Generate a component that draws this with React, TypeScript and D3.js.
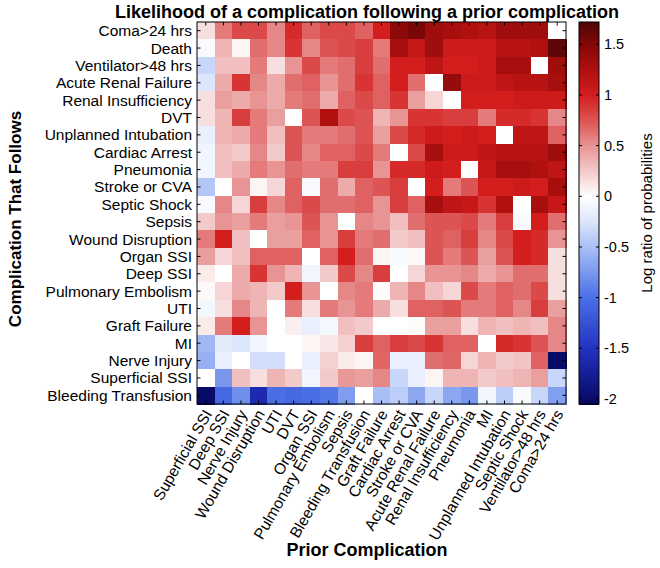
import React from 'react';
import * as d3 from 'd3';

const priorComplications = [
  'Superficial SSI', 'Deep SSI', 'Nerve Injury', 'Wound Disruption', 'UTI', 'DVT', 'Organ SSI',
  'Pulmonary Embolism', 'Sepsis', 'Bleeding Transfusion', 'Graft Failure', 'Cardiac Arrest',
  'Stroke or CVA', 'Acute Renal Failure', 'Renal Insufficiency', 'Pneumonia', 'MI',
  'Unplanned Intubation', 'Septic Shock', 'Ventilator>48 hrs', 'Coma>24 hrs',
];

const followingComplications = [
  'Coma>24 hrs', 'Death', 'Ventilator>48 hrs', 'Acute Renal Failure', 'Renal Insufficiency', 'DVT',
  'Unplanned Intubation', 'Cardiac Arrest', 'Pneumonia', 'Stroke or CVA', 'Septic Shock', 'Sepsis',
  'Wound Disruption', 'Organ SSI', 'Deep SSI', 'Pulmonary Embolism', 'UTI', 'Graft Failure', 'MI',
  'Nerve Injury', 'Superficial SSI', 'Bleeding Transfusion',
];

// log ratio of probabilities; rows = complication that follows, cols = prior complication
const logRatios: (number | null)[][] = [
  [0.15, 0.6, 0.8, 0.8, 0.55, 0.95, 0.7, 0.8, 0.8, 0.7, 1.0, 1.45, 1.55, 1.35, 1.3, 1.25, 1.2, 1.35, 1.35, 1.35, null],
  [-0.05, 0.35, 0.05, 0.65, 0.55, 0.9, 0.55, 0.75, 0.8, 0.85, 0.6, 1.3, 1.1, 1.35, 1.05, 1.05, 1.05, 1.2, 1.2, 1.25, 1.65],
  [-0.35, 0.3, 0.3, 0.6, 0.15, 0.5, 0.8, 0.6, 0.65, 0.85, 0.65, 1.0, 1.0, 1.15, 1.0, 1.0, 1.05, 1.3, 1.3, null, 1.35],
  [-0.25, 0.4, 0.9, 0.55, 0.4, 0.65, 0.7, 0.5, 0.65, 0.9, 0.7, 1.0, 0.65, null, 1.4, 1.05, 1.05, 1.15, 1.2, 1.2, 1.3],
  [0.15, 0.45, 0.4, 0.5, 0.4, 0.6, 0.65, 0.4, 0.7, 0.8, 0.7, 0.9, 0.45, 0.2, null, 1.0, 1.0, 1.0, 1.05, 1.05, 1.05],
  [0.15, 0.35, 0.85, 0.6, 0.45, null, 0.75, 1.25, 0.8, 0.75, 0.35, 0.5, 0.9, 0.9, 0.85, 0.85, 0.6, 0.95, 0.95, 0.9, 0.55],
  [-0.15, 0.35, 0.4, 0.6, 0.3, 0.75, 0.6, 0.6, 0.65, 0.75, 0.45, 0.8, 0.95, 1.05, 1.0, 1.05, 1.0, null, 1.15, 1.15, 0.7],
  [-0.1, 0.3, 0.25, 0.55, 0.25, 0.75, 0.55, 0.7, 0.7, 0.8, 0.6, null, 0.8, 1.3, 1.05, 1.05, 1.15, 1.2, 1.2, 1.2, 1.35],
  [-0.1, 0.3, 0.4, 0.6, 0.5, 0.65, 0.6, 0.6, 0.85, 0.85, 0.5, 0.95, 0.95, 1.05, 1.0, null, 1.1, 1.3, 1.3, 1.25, 1.15],
  [-0.45, 0.0, 0.5, 0.05, 0.2, 0.7, -0.05, 0.65, 0.4, 0.7, 0.75, 0.85, null, 1.0, 0.6, 0.75, 1.0, 1.0, 1.05, 1.0, 1.3],
  [-0.05, 0.55, 0.2, 0.85, 0.55, 0.7, 0.8, 0.65, 0.65, 0.7, 0.5, 0.85, 0.7, 1.3, 1.15, 1.1, 0.9, 1.25, null, 1.3, 1.1],
  [0.25, 0.5, 0.45, 0.6, 0.45, 0.5, 0.75, 0.5, null, 0.55, 0.5, 0.3, 0.65, 0.75, 0.75, 0.8, 0.6, 0.85, -0.05, 1.0, 0.65],
  [0.6, 1.0, 0.3, null, 0.45, 0.45, 0.7, 0.5, 0.85, 0.6, 0.65, 0.25, 0.3, 0.75, 0.7, 0.85, 0.55, 0.8, 1.0, 0.95, 0.5],
  [0.45, 0.2, 0.3, 0.7, 0.7, 0.7, null, 0.7, 1.0, 0.65, 0.05, -0.05, 0.03, 0.75, 0.6, 0.75, 0.45, 0.75, 1.0, 0.95, 0.15],
  [0.1, null, 0.4, 0.9, 0.5, 0.35, -0.1, 0.25, 0.8, 0.55, 0.85, 0.0, 0.2, 0.5, 0.5, 0.55, 0.4, 0.5, 0.65, 0.65, 0.15],
  [0.03, 0.2, 0.4, 0.35, 0.25, 1.0, 0.5, null, 0.55, 0.6, 0.02, 0.35, 0.55, 0.3, 0.2, 0.8, 0.6, 0.7, 0.65, 0.8, 0.15],
  [-0.08, 0.15, 0.55, 0.35, null, 0.6, 0.15, 0.6, 0.5, 0.6, 0.4, 0.15, 0.7, 0.7, 0.75, 0.6, 0.6, 0.7, 0.55, 0.85, 0.45],
  [0.1, 0.6, 1.0, 0.5, 0.0, 0.08, -0.15, -0.08, 0.3, 0.25, null, 0.0, 0.02, 0.45, 0.45, 0.15, 0.35, 0.3, 0.35, 0.3, 0.55],
  [-0.55, -0.2, -0.25, -0.1, 0.0, 0.0, 0.05, 0.12, 0.22, 0.85, 0.7, 0.85, 0.8, 0.9, 0.7, 0.7, null, 0.95, 0.9, 0.75, 0.55],
  [-0.6, -0.15, null, -0.3, -0.3, 0.0, -0.15, 0.22, 0.1, 0.05, 0.68, -0.15, -0.15, 0.65, 0.68, 0.2, 0.35, 0.25, 0.28, 0.7, -2.0],
  [null, -0.75, 0.3, 0.15, 0.35, 0.25, -0.1, 0.25, 0.48, 0.45, 0.55, -0.35, -0.15, 0.05, 0.35, 0.35, 0.25, 0.3, 0.35, 0.45, -0.35],
  [-2.0, -1.05, -0.8, -1.6, -1.0, -1.05, -1.0, -0.95, -0.72, null, -0.5, -0.4, -0.65, -0.35, -0.65, -0.75, -0.1, -0.4, -0.05, -0.35, -0.7],
];

const colorbarTicks = [1.5, 1, 0.5, 0, -0.5, -1, -1.5, -2];
const colorMin = -2.05;
const colorMax = 1.72;
const colorStops = [-2.05, -1.5, -1, -0.5, -0.25, 0, 0.25, 0.5, 0.75, 1, 1.25, 1.5, 1.72];
const colorValues = [
  '#070760', '#2232c0', '#4a6fe5', '#a8bff5', '#dbe5fb', '#ffffff',
  '#f3caca', '#e89494', '#dd5454', '#d41e1e', '#b01010', '#850808', '#4d0505',
];

const FONT = '"Liberation Sans", Arial, Helvetica, sans-serif';

export default function App() {
  const W = 660, H = 568;
  const left = 197, right = 566, top = 22, bottom = 404;
  const cbLeft = 579, cbRight = 599;
  const centerX = 367;

  const x = d3.scaleBand<string>().domain(priorComplications).range([left, right]);
  const y = d3.scaleBand<string>().domain(followingComplications).range([top, bottom]);
  const color = d3.scaleLinear<string>().domain(colorStops).range(colorValues).interpolate(d3.interpolateRgb).clamp(true);
  const cb = d3.scaleLinear().domain([colorMin, colorMax]).range([bottom, top]);

  const cells: JSX.Element[] = [];
  logRatios.forEach((row, ri) => {
    row.forEach((v, ci) => {
      cells.push(
        <rect
          key={`${ri}-${ci}`}
          x={x(priorComplications[ci])}
          y={y(followingComplications[ri])}
          width={x.bandwidth() + 0.5}
          height={y.bandwidth() + 0.5}
          fill={v === null ? '#ffffff' : color(v)}
        />
      );
    });
  });

  const nSteps = 300;
  const cbRects = d3.range(nSteps).map((i) => {
    const v0 = colorMin + ((colorMax - colorMin) * i) / nSteps;
    const v1 = colorMin + ((colorMax - colorMin) * (i + 1)) / nSteps;
    return (
      <rect key={i} x={cbLeft} y={cb(v1)} width={cbRight - cbLeft} height={cb(v0) - cb(v1) + 0.6}
        fill={color((v0 + v1) / 2)} />
    );
  });

  const tl = 3.5;
  return (
    <svg width={W} height={H} style={{ position: 'absolute', left: 0, top: 0, background: '#fff' }}
      fontFamily={FONT}>
      <rect x={0} y={0} width={W} height={H} fill="#fff" />
      <text x={centerX} y={18} textAnchor="middle" fontSize={18} fontWeight="bold">
        Likelihood of a complication following a prior complication
      </text>
      <g shapeRendering="crispEdges">{cells}</g>
      <g stroke="#000" strokeWidth={1}>
        {priorComplications.map((c) => {
          const cx = (x(c) as number) + x.bandwidth() / 2;
          return (
            <g key={c}>
              <line x1={cx} x2={cx} y1={top} y2={top + tl} />
              <line x1={cx} x2={cx} y1={bottom} y2={bottom - tl} />
            </g>
          );
        })}
        {followingComplications.map((c) => {
          const cy = (y(c) as number) + y.bandwidth() / 2;
          return (
            <g key={c}>
              <line x1={left} x2={left + tl} y1={cy} y2={cy} />
              <line x1={right} x2={right - tl} y1={cy} y2={cy} />
            </g>
          );
        })}
      </g>
      <rect x={left} y={top} width={right - left} height={bottom - top} fill="none" stroke="#000" strokeWidth={1} />
      {followingComplications.map((c) => (
        <text key={c} x={left - 5} y={(y(c) as number) + y.bandwidth() / 2} textAnchor="end"
          dominantBaseline="central" fontSize={15.5}>{c}</text>
      ))}
      {priorComplications.map((c) => {
        const cx = (x(c) as number) + x.bandwidth() / 2;
        const cy = bottom + 7;
        return (
          <text key={c} transform={`translate(${cx + 2},${cy}) rotate(-60)`} textAnchor="end"
            dominantBaseline="central" fontSize={15.5}>{c}</text>
        );
      })}
      <text x={centerX} y={556} textAnchor="middle" fontSize={18} fontWeight="bold">
        Prior Complication
      </text>
      <text transform={`translate(21,${(top + bottom) / 2 + 6}) rotate(-90)`} textAnchor="middle"
        fontSize={17} fontWeight="bold">
        Complication That Follows
      </text>
      <g shapeRendering="crispEdges">{cbRects}</g>
      <rect x={cbLeft} y={top} width={cbRight - cbLeft} height={bottom - top} fill="none" stroke="#000" strokeWidth={1} />
      {colorbarTicks.map((t) => (
        <g key={t}>
          <line x1={cbRight} x2={cbRight - 3} y1={cb(t)} y2={cb(t)} stroke="#000" />
          <line x1={cbLeft} x2={cbLeft + 3} y1={cb(t)} y2={cb(t)} stroke="#000" />
          <text x={cbRight + 5} y={cb(t)} dominantBaseline="central" fontSize={14.5}>{t}</text>
        </g>
      ))}
      <text transform={`translate(652,${(top + bottom) / 2}) rotate(-90)`} textAnchor="middle"
        fontSize={15}>
        Log ratio of probabilities
      </text>
    </svg>
  );
}
